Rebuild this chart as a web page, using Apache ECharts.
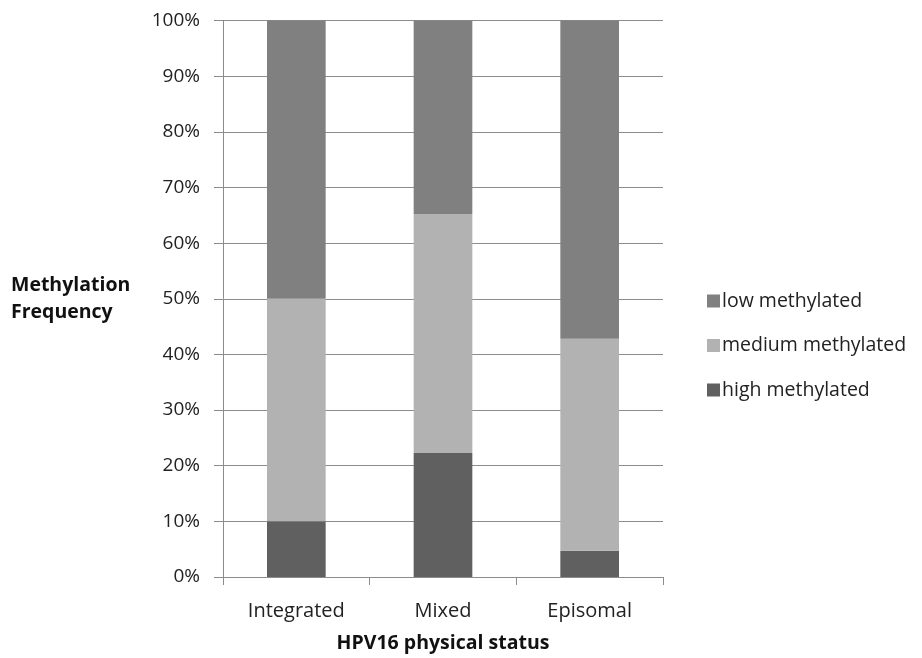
<!DOCTYPE html>
<html><head><meta charset="utf-8">
<script src="https://cdn.jsdelivr.net/npm/echarts@6/dist/echarts.min.js"></script>
<style>html,body{margin:0;padding:0;background:#fff}#c{width:922px;height:658px}</style>
</head><body><div id="c"></div>
<script>
const categories = ["Integrated", "Mixed", "Episomal"];
const highValues = [10, 22.3, 4.7];
const mediumValues = [40, 42.9, 38.1];
const lowValues = [50, 34.8, 57.2];
const seriesNames = ["high methylated", "medium methylated", "low methylated"];
const legendOrder = ["low methylated", "medium methylated", "high methylated"];

const FONT = "'Open Sans', Lato, sans-serif";
const chart = echarts.init(document.getElementById('c'), null, {renderer: 'canvas'});
const colors = {"high methylated": "#606060", "medium methylated": "#b2b2b2", "low methylated": "#808080"};
const seriesData = [highValues, mediumValues, lowValues];

chart.setOption({
  animation: false,
  backgroundColor: '#fff',
  grid: {left: 223, right: 259, top: 20.5, bottom: 80.5},
  legend: {
    orient: 'vertical', left: 702, top: 284, itemGap: 20.5,
    itemWidth: 13, itemHeight: 13, icon: 'rect',
    data: legendOrder,
    textStyle: {fontFamily: FONT, fontSize: 19.5, color: '#222', lineHeight: 24, padding: [0,0,0,-3]}
  },
  xAxis: {
    type: 'category', data: categories,
    axisLine: {lineStyle: {color: '#8c8c8c', width: 1}},
    axisTick: {show: true, length: 8, lineStyle: {color: '#8c8c8c'}},
    axisLabel: {fontFamily: FONT, fontSize: 20, color: '#222', margin: 24},
    name: 'HPV16 physical status', nameLocation: 'middle', nameGap: 56,
    nameTextStyle: {fontFamily: FONT, fontSize: 19.5, fontWeight: 'bold', color: '#111'}
  },
  yAxis: {
    type: 'value', min: 0, max: 100, interval: 10,
    axisLine: {show: true, lineStyle: {color: '#8c8c8c', width: 1}},
    axisTick: {show: true, length: 9, lineStyle: {color: '#8c8c8c'}},
    splitLine: {lineStyle: {color: '#8c8c8c', width: 1}},
    axisLabel: {fontFamily: FONT, fontSize: 19, color: '#222', margin: 23, formatter: '{value}%'}
  },
  graphic: [{
    type: 'text', left: 11, top: 272,
    style: {text: 'Methylation\nFrequency', fontFamily: FONT, fontSize: 19.5, fontWeight: 'bold', fill: '#111', lineHeight: 27}
  }],
  series: seriesNames.map((n, i) => ({
    name: n, type: 'bar', stack: 'total', barWidth: '40%',
    itemStyle: {color: colors[n]},
    data: seriesData[i]
  }))
});
</script></body></html>
